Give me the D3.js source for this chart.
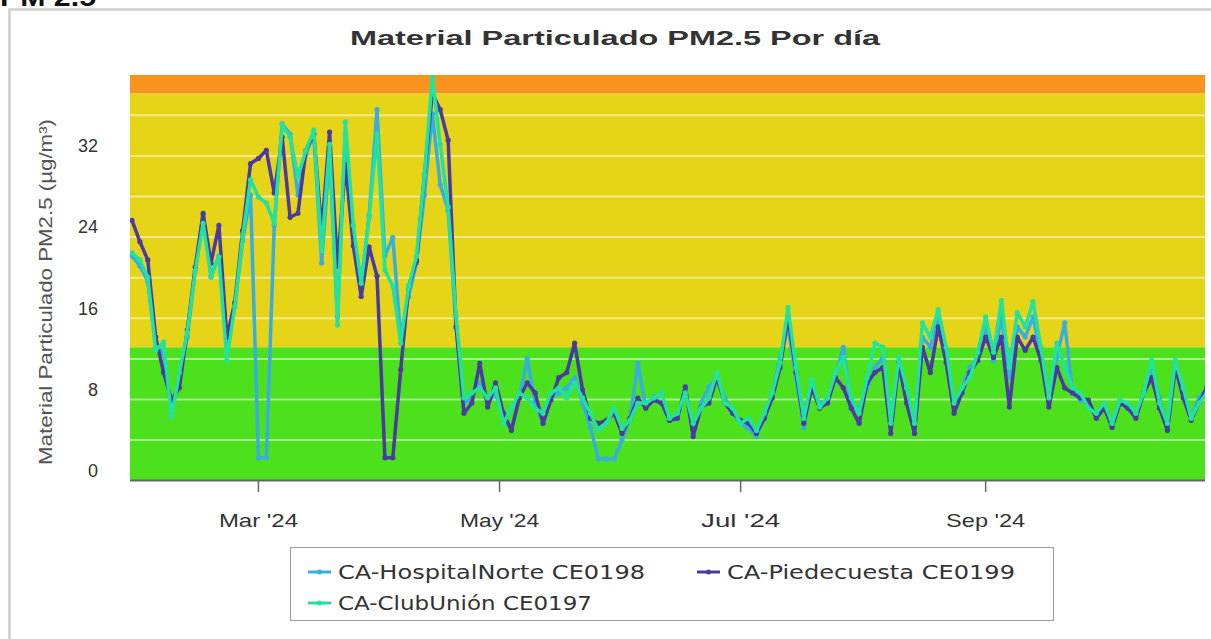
<!DOCTYPE html>
<html><head><meta charset="utf-8">
<script src="https://cdn.jsdelivr.net/npm/d3@7"></script>
<style>body{margin:0;background:#fff;overflow:hidden}svg{display:block}</style>
</head><body>
<svg id="c" width="1211" height="639"></svg>
<script>
// ---- data ----
const seriesNames = ["CA-HospitalNorte CE0198", "CA-Piedecuesta CE0199", "CA-ClubUnión CE0197"];
const seriesColors = ["#38aee0", "#4b3aa0", "#22e29e"];
const startDate = new Date(2024, 0, 29);
const stepDays = 2;
const hospitalNorte = [21,20,18.5,12,11.5,5.5,9,13,19.5,25,19,21,12,16,22.5,27,1.1,1.1,24,34,33,27,31,33,20.3,31,15,33,23,18,25,35.4,21,22.8,13,17,20.3,27,35,28,25.5,14,6.5,7,8.5,6.5,7.5,5,4,7,10.9,6.5,4.5,7,7.5,8,9,6.5,4.1,1.0,1.0,1.0,2.9,5,10.4,6.1,7.1,6.5,4.8,5,8,3.5,6.5,8.1,9,7,5.5,4.5,4,3.2,5,7.5,11,14,9,4.1,8,6.5,6.8,9,12,6,6,8,10,11,5,10,7,4,13,12,15,11.4,6,8,10,11,14,10.7,15,9,14,13,15,11,6.5,11,14.4,7.5,6.8,6.5,5.1,6.1,4.5,6.8,6,5.1,7.5,10,7,4,10.5,7.5,5,7,8];
const piedecuesta = [24.5,22.4,20.6,13,9.5,6.8,8,13.7,19.9,25.2,20.3,24,13,16.4,23.5,30.1,30.6,31.4,27.2,32.7,24.8,25.2,31.4,33,23.5,33.2,20,30,22,17,21.9,19,1.1,1.1,9.8,18,20.5,29,37,35.4,32.4,14,5.5,6.5,10.4,6.1,8.5,5.5,3.8,7,8.5,7.5,4.5,6.8,9,9.5,12.4,7.8,5,4.5,4.8,5.5,3.5,5,7,6,6.8,6.5,4.8,5,8.1,3.2,6.1,6.5,9,6.5,5.5,4.8,4.5,3.5,5,7,10,15,9.5,4.5,8,6,6.5,9,8,6,4.5,8.5,9.5,10,3.5,10.5,6.5,3.5,12,9.5,14,10.5,5.5,7.5,9.5,10.7,13,11,13,6.1,13,11.7,13,10.7,6.1,10,8,7.5,7,6.8,5,6,4.1,6.5,6,5,7.5,9,6,3.8,10,7,4.8,6.5,8.1];
const clubUnion = [21.3,20.6,18.9,11.7,12.5,5.1,9.5,13.5,19.5,24.2,18.9,20.9,10.7,16,22.9,28.5,26.8,26.2,24.2,33.9,32.7,28.8,31.4,33.4,21.5,32,14.2,34.2,24,18.3,24.8,33,19.6,18,12.4,18,21,29,38.6,32,25.8,15,7,7.5,8,7,8,4.5,6,7.5,7,6,5.5,7.5,8,7,8.5,7,5.5,3.8,4.5,6,4,4.8,6.5,6.5,7,7.5,5,5.5,7.5,4.5,6,7,9.5,6.5,6,4.5,5,3.8,5.5,7.5,10.5,15.9,10,5,8.8,6.1,7,9.5,11,7,5.5,9,12.4,12,4.5,11,8,4.5,14.4,13,15.7,12,6.5,8,9,11.5,15,11.5,16.6,10,15.4,14,16.5,12,7,12.4,10,8,7.5,6,5.5,6.5,4.5,6.8,6.5,5.5,7.5,10.7,6.5,4.5,10.7,8,5,6.5,7.5];
const yTickValues = [0, 8, 16, 24, 32];
const xTickDates = [new Date(2024, 2, 1), new Date(2024, 4, 1), new Date(2024, 6, 1), new Date(2024, 8, 1)];
const xTickLabels = ["Mar '24", "May '24", "Jul '24", "Sep '24"];
const bandLimits = [12, 37];
const bandColors = ["#4de01c", "#e6d418", "#f8941e"];
const titleText = "Material Particulado PM2.5 Por día";
const yTitleText = "Material Particulado PM2.5 (µg/m³)";
const pageHeading = "PM 2.5";

// ---- layout ----
const L = 130, R = 1205, T = 75, B = 480;
const svg = d3.select("#c");
const dates = d3.range(hospitalNorte.length).map(i => d3.timeDay.offset(startDate, i * stepDays));
const x = d3.scaleTime().domain([new Date(2024, 0, 28, 12), new Date(2024, 9, 26, 12)]).range([L, R]);
const y = d3.scaleLinear().domain([-1.08, 38.82]).range([B, T]);

// page heading (cut off at the top, as in the reference)
svg.append("text").attr("x", 0).attr("y", 6).attr("font-family", "Liberation Sans, Arial").attr("font-weight", "bold")
  .attr("font-size", 26).attr("fill", "#111").attr("textLength", 96).attr("lengthAdjust", "spacingAndGlyphs").text(pageHeading);

// frame
svg.append("rect").attr("x", 9.5).attr("y", 9.5).attr("width", 1220).attr("height", 650)
  .attr("fill", "#fff").attr("stroke", "#cfcfcf").attr("stroke-width", 2.5);

// title
svg.append("text").attr("x", 350).attr("y", 45).attr("font-family", "Liberation Sans, Arial").attr("font-weight", "bold")
  .attr("font-size", 21).attr("fill", "#333").attr("textLength", 530).attr("lengthAdjust", "spacingAndGlyphs").text(titleText);

// bands
const bandEdges = [y.domain()[0], ...bandLimits, y.domain()[1]];
const gPlot = svg.append("g");
gPlot.selectAll("rect.band").data(bandColors).join("rect").attr("class", "band")
  .attr("x", L).attr("width", R - L)
  .attr("y", (d, i) => y(bandEdges[i + 1]))
  .attr("height", (d, i) => y(bandEdges[i]) - y(bandEdges[i + 1]))
  .attr("fill", d => d);

// grid lines
const gridVals = d3.range(9).map(k => 2.85 + 4 * k);
gPlot.selectAll("line.grid").data(gridVals).join("line")
  .attr("x1", L).attr("x2", R).attr("y1", d => y(d)).attr("y2", d => y(d))
  .attr("stroke", "#ffffff").attr("stroke-opacity", 0.5).attr("stroke-width", 2);

// clip
svg.append("clipPath").attr("id", "clip").append("rect").attr("x", L).attr("y", T - 2).attr("width", R - L).attr("height", B - T + 2);
const gLines = svg.append("g").attr("clip-path", "url(#clip)");
const allSeries = [hospitalNorte, piedecuesta, clubUnion];
const line = d3.line().x((d, i) => x(dates[i])).y(d => y(d));
allSeries.forEach((vals, s) => {
  gLines.append("path").datum(vals).attr("d", line).attr("fill", "none")
    .attr("stroke", seriesColors[s]).attr("stroke-width", 3.5).attr("stroke-linejoin", "round");
  gLines.selectAll(null).data(vals).join("circle")
    .attr("cx", (d, i) => x(dates[i])).attr("cy", d => y(d)).attr("r", 2.6).attr("fill", seriesColors[s]);
});

// x axis
svg.append("line").attr("x1", L).attr("x2", R).attr("y1", B + 0.5).attr("y2", B + 0.5).attr("stroke", "#666").attr("stroke-width", 2);
const gx = svg.append("g");
gx.selectAll("line").data(xTickDates).join("line")
  .attr("x1", d => x(d)).attr("x2", d => x(d)).attr("y1", B).attr("y2", B + 12).attr("stroke", "#666").attr("stroke-width", 1.5);
gx.selectAll("text").data(xTickDates).join("text")
  .attr("x", d => x(d)).attr("y", 527).attr("text-anchor", "middle")
  .attr("font-family", "Liberation Sans, Arial").attr("font-size", 19).attr("fill", "#333")
  .attr("textLength", (d, i) => xTickLabels[i].length * 11.3).attr("lengthAdjust", "spacingAndGlyphs")
  .text((d, i) => xTickLabels[i]);

// y axis labels
svg.append("g").selectAll("text").data(yTickValues).join("text")
  .attr("x", 98).attr("y", d => y(d) + 8).attr("text-anchor", "end")
  .attr("font-family", "Liberation Sans, Arial").attr("font-size", 18).attr("fill", "#333").text(d => d);

svg.append("text").attr("transform", "translate(52,292) rotate(-90)").attr("text-anchor", "middle")
  .attr("font-family", "Liberation Sans, Arial").attr("font-size", 18).attr("fill", "#555")
  .attr("textLength", 346).attr("lengthAdjust", "spacingAndGlyphs").text(yTitleText);

// legend
const lg = svg.append("g");
lg.append("rect").attr("x", 290.5).attr("y", 547.5).attr("width", 763).attr("height", 73)
  .attr("fill", "#fff").attr("stroke", "#999").attr("stroke-width", 1);
const legPos = [{sx: 308, ty: 579, tl: 307}, {sx: 697, ty: 579, tl: 288}, {sx: 308, ty: 610, tl: 254}];
seriesNames.forEach((n, s) => {
  const p = legPos[s];
  const cy = p.ty - 7;
  lg.append("line").attr("x1", p.sx).attr("x2", p.sx + 23).attr("y1", cy).attr("y2", cy).attr("stroke", seriesColors[s]).attr("stroke-width", 3);
  lg.append("circle").attr("cx", p.sx + 11.5).attr("cy", cy).attr("r", 2.5).attr("fill", seriesColors[s]);
  lg.append("text").attr("x", p.sx + 30).attr("y", p.ty).attr("font-family", "DejaVu Sans, Verdana").attr("font-size", 19)
    .attr("fill", "#333").attr("textLength", p.tl).attr("lengthAdjust", "spacingAndGlyphs").text(n);
});
</script>
</body></html>
